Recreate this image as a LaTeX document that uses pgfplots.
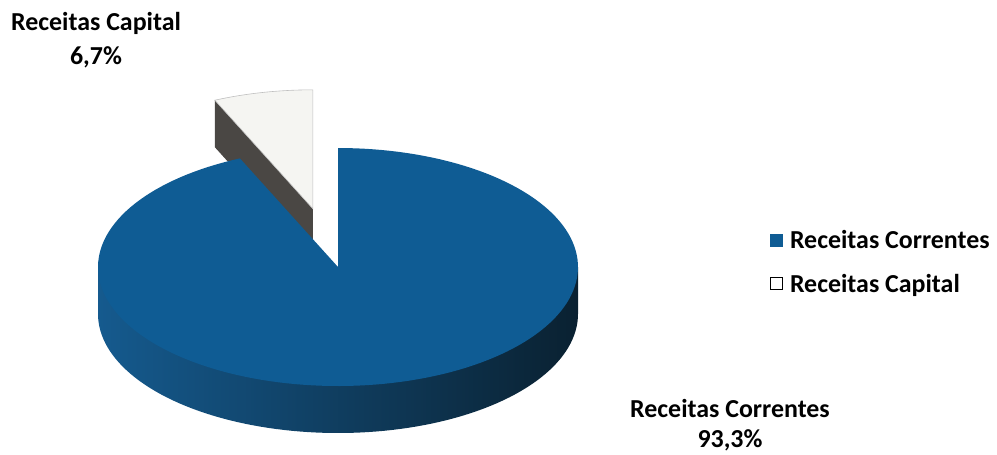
\documentclass[border=0pt]{standalone}
\usepackage{pgfplots}
\pgfplotsset{compat=1.18}
\usepackage{pgfplotstable}
\usepackage{fontspec}
\setmainfont{Carlito}
\definecolor{pieblue}{HTML}{0F5C94}
\definecolor{sideL}{HTML}{155A8E}
\definecolor{sideM}{HTML}{0E3451}
\definecolor{sideR}{HTML}{0A2131}
\definecolor{capwhite}{HTML}{F5F5F2}
\definecolor{capside}{HTML}{4A4744}

\pgfplotstableread{
label value
Correntes 93.3
Capital 6.7
}\piedata

\begin{document}
\begin{tikzpicture}
\pgfplotstablegetelem{1}{value}\of\piedata
\pgfmathsetmacro\capang{\pgfplotsretval*3.6}
\pgfmathsetmacro\aStart{90}
\pgfmathsetmacro\aEnd{90+\capang}
\pgfmathsetmacro\aBlueEnd{450}
\def\cx{338}\def\cy{184}\def\rx{240}\def\ry{119}\def\th{47}
\pgfmathsetmacro\bis{90+\capang/2}
\pgfmathsetmacro\ccx{\cx+0.5*\rx*cos(\bis)}
\pgfmathsetmacro\ccy{\cy+0.5*\ry*sin(\bis)}
\pgfmathsetmacro\ccyb{\ccy-\th}
\pgfmathsetmacro\px{\ccx+\rx*cos(\aEnd)}
\pgfmathsetmacro\py{\ccy+\ry*sin(\aEnd)}
\pgfmathsetmacro\pyb{\py-\th}
\pgfmathsetmacro\cyb{\cy-\th}
\pgfmathsetmacro\xl{\cx-\rx}
\pgfmathsetmacro\xr{\cx+\rx}
\begin{axis}[
  scale only axis, width=997bp, height=451bp,
  xmin=0, xmax=997, ymin=0, ymax=451,
  hide axis, clip=false,
  legend style={at={(axis cs:770,223)}, anchor=north west, draw=none, fill=none,
    font=\fontsize{26}{30}\selectfont\bfseries, row sep=20bp, inner sep=0pt,
    cells={anchor=west}},
  legend image code/.code={\filldraw[#1] (0bp,-6bp) rectangle (12bp,6bp); \path (17bp,0bp);},
]
\path (rel axis cs:0,0) rectangle (rel axis cs:1,1);
% capital slice: radial side face
\addplot[fill=capside, draw=none, forget plot] coordinates {(\ccx,\ccy) (\px,\py) (\px,\pyb) (\ccx,\ccyb)} -- cycle;
% capital slice: top
\addplot[fill=capwhite, draw=black!25, line width=0.6pt, domain=\aStart:\aEnd, samples=30, variable=\t, forget plot]
  ({\ccx+\rx*cos(\t)},{\ccy+\ry*sin(\t)}) -- (axis cs:\ccx,\ccy) -- cycle;
% blue: cylinder side
\addplot[draw=none, left color=sideL, middle color=sideM, right color=sideR, domain=180:360, samples=90, variable=\t, forget plot]
  ({\cx+\rx*cos(\t)},{\cyb+\ry*sin(\t)}) -- (axis cs:\xr,\cy) -- (axis cs:\xl,\cy) -- cycle;
% blue: top
\addplot[fill=pieblue, draw=none, domain=\aEnd:\aBlueEnd, samples=160, variable=\t, forget plot]
  ({\cx+\rx*cos(\t)},{\cy+\ry*sin(\t)}) -- (axis cs:\cx,\cy) -- cycle;
\addlegendimage{fill=pieblue, draw=pieblue}
\addlegendentry{Receitas Correntes}
\addlegendimage{fill=white, draw=black, line width=0.8pt}
\addlegendentry{Receitas Capital}
\node[align=center, font=\fontsize{26}{34}\selectfont\bfseries, anchor=center] at (axis cs:96,411) {Receitas Capital\\6,7\%};
\node[align=center, font=\fontsize{26}{30}\selectfont\bfseries, anchor=center] at (axis cs:730,26) {Receitas Correntes\\93,3\%};
\end{axis}
\end{tikzpicture}
\end{document}
